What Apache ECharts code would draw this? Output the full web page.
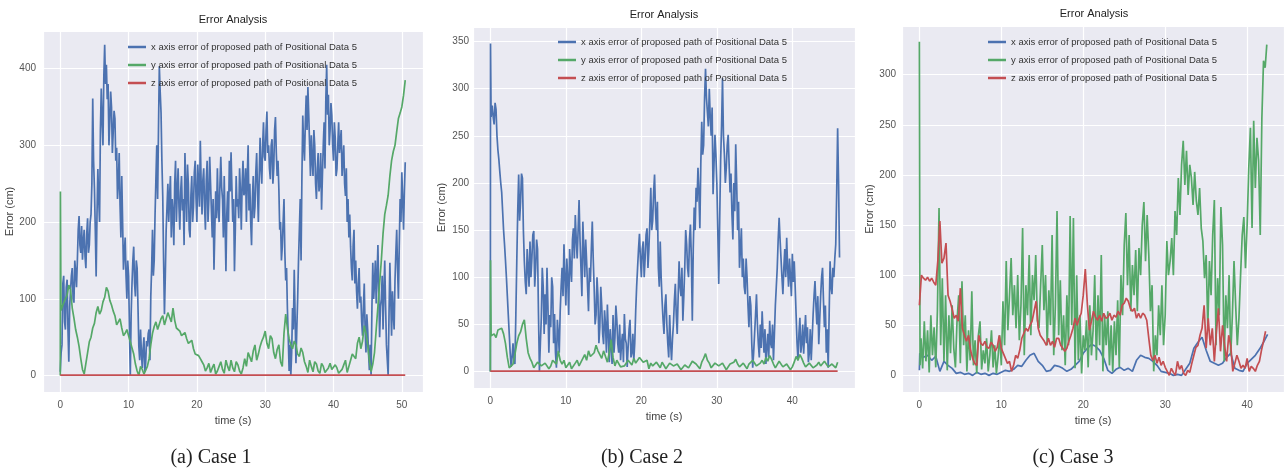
<!DOCTYPE html>
<html>
<head>
<meta charset="utf-8">
<title>Error Analysis</title>
<script src="https://cdn.jsdelivr.net/npm/echarts@6.0.0/dist/echarts.min.js"></script>
<style>
html, body {
	margin: 0;
	padding: 0;
	background: #ffffff;
}

#main {
	width: 1287px;
	height: 472px;
}
</style>
</head>
<body>
<div id="main"></div>
<script type="text/javascript">
	// values: time in s, error in cm
	var seriesNames = [ 'x axis error of proposed path of Positional Data 5',
			'y axis error of proposed path of Positional Data 5',
			'z axis error of proposed path of Positional Data 5' ];
	var captions = [ '(a) Case 1', '(b) Case 2', '(c) Case 3' ];

	// Case 1
	var case1XStep = 0.125;
	var case1X = [ 5, 30, 40, 120, 130, 70, 60, 115,
			125, 60, 18, 90, 110, 130, 140, 100,
			95, 150, 135, 115, 150, 190, 208, 170,
			160, 195, 151, 175, 190, 155, 140, 185,
			205, 160, 170, 200, 210, 250, 361, 280,
			244, 190, 129, 210, 269, 230, 200, 320,
			374, 330, 300, 390, 431, 380, 405, 360,
			380, 300, 331, 370, 350, 290, 318, 345,
			335, 280, 297, 230, 250, 290, 222, 180,
			260, 200, 138, 160, 180, 130, 100, 150,
			130, 60, 0, 80, 120, 150, 168, 120,
			103, 150, 140, 90, 38, 20, 60, 30,
			10, 35, 50, 5, 16, 45, 38, 55,
			60, 20, 103, 140, 190, 130, 150, 210,
			256, 300, 230, 320, 403, 370, 343, 280,
			234, 150, 80, 130, 190, 220, 250, 200,
			234, 260, 180, 230, 212, 170, 250, 280,
			200, 240, 270, 220, 190, 240, 260, 215,
			230, 170, 290, 245, 200, 275, 250, 190,
			180, 235, 260, 200, 220, 265, 280, 230,
			200, 275, 250, 220, 306, 250, 210, 255,
			270, 220, 190, 255, 280, 200, 230, 285,
			250, 215, 180, 230, 138, 190, 240, 205,
			270, 220, 200, 250, 285, 245, 230, 180,
			260, 200, 136, 210, 240, 200, 280, 240,
			291, 245, 200, 230, 136, 190, 260, 220,
			230, 205, 270, 240, 190, 250, 280, 235,
			240, 270, 200, 260, 300, 215, 250, 200,
			170, 230, 260, 205, 220, 265, 290, 240,
			200, 260, 310, 270, 250, 300, 330, 285,
			280, 320, 344, 290, 300, 270, 256, 300,
			308, 250, 270, 320, 337, 290, 260, 280,
			243, 190, 200, 150, 168, 200, 230, 160,
			124, 140, 87, 50, 6, 40, 0, 30,
			88, 60, 138, 80, 16, 60, 100, 150,
			190, 230, 150, 260, 339, 300, 280, 330,
			365, 320, 376, 340, 300, 260, 313, 280,
			260, 320, 300, 250, 230, 270, 290, 240,
			250, 290, 216, 260, 300, 330, 270, 360,
			405, 340, 366, 300, 320, 355, 339, 300,
			280, 330, 310, 260, 269, 300, 330, 290,
			290, 320, 260, 280, 300, 250, 234, 270,
			200, 230, 180, 210, 168, 140, 124, 170,
			190, 120, 150, 110, 87, 120, 140, 95,
			103, 70, 52, 90, 120, 60, 30, 80,
			60, 30, 7, 40, 0, 90, 147, 100,
			120, 150, 94, 130, 170, 110, 50, 90,
			100, 130, 60, 110, 150, 90, 40, 20,
			0, 80, 147, 100, 52, 110, 81, 60,
			124, 160, 190, 140, 100, 170, 230, 200,
			265, 230, 190, 240, 278 ];
	var case1YHead = [ [ 0, 0 ], [ 0.02, 240 ], [ 0.1, 85 ] ];
	var case1YStart = 0.5;
	var case1YStep = 0.25;
	var case1Y = [ 95, 100, 105, 118, 112, 88, 75, 60, 50, 38, 22, 8, 2, 16, 30, 44, 50, 62, 68, 82,
			90, 80, 85, 96, 102, 115, 110, 98, 92, 84, 78, 66, 70, 74, 62, 52, 55, 60, 52, 44,
			36, 28, 15, 6, 0, 12, 8, 2, 3, 12, 22, 40, 55, 64, 70, 60, 62, 74, 78, 66,
			68, 82, 76, 70, 88, 72, 62, 64, 58, 52, 50, 56, 48, 42, 40, 46, 35, 28, 30, 26,
			22, 18, 14, 6, 10, 16, 4, 10, 15, 2, 6, 12, 18, 8, 3, 20, 12, 6, 20, 10,
			5, 18, 14, 6, 2, 10, 22, 12, 30, 24, 18, 32, 40, 20, 28, 38, 45, 50, 58, 42,
			35, 52, 48, 30, 22, 34, 40, 18, 12, 55, 80, 62, 48, 40, 35, 45, 40, 28, 25, 36,
			30, 18, 12, 4, 20, 12, 5, 18, 15, 6, 3, 16, 12, 4, 2, 10, 16, 8, 6, 14,
			10, 3, 2, 8, 14, 20, 4, 12, 20, 28, 30, 22, 42, 50, 35, 45, 65, 55, 40, 20,
			5, 15, 30, 60, 90, 120, 150, 185, 210, 222, 235, 260, 280, 292, 300, 318, 335, 342, 350, 365,
			385 ];
	var case1Z = [ [ 0, 0.5 ], [ 50.5, 0.5 ] ];

	// Case 2
	var case2XHead = [ [ 0, 0 ], [ 0.02, 348 ], [ 0.1, 270 ] ];
	var case2XStart = 0.25;
	var case2XStep = 0.125;
	var case2X = [ 282, 270, 262, 285, 278, 250, 235, 225,
			212, 200, 190, 170, 150, 135, 118, 100,
			80, 60, 40, 20, 5, 15, 30, 12,
			8, 60, 117, 170, 209, 160, 180, 210,
			205, 150, 117, 95, 82, 130, 110, 90,
			138, 100, 120, 145, 149, 90, 110, 140,
			130, 60, 0, 30, 57, 110, 90, 40,
			82, 50, 110, 70, 20, 60, 47, 100,
			90, 30, 61, 20, 4, 55, 40, 20,
			64, 90, 110, 80, 135, 100, 70, 120,
			100, 60, 130, 110, 95, 140, 152, 120,
			166, 140, 120, 150, 182, 140, 110, 80,
			159, 130, 100, 140, 117, 90, 64, 110,
			95, 130, 159, 120, 89, 50, 60, 100,
			80, 30, 47, 90, 70, 40, 29, 65,
			50, 20, 71, 40, 10, 45, 26, 8,
			60, 20, 36, 70, 55, 30, 20, 50,
			12, 30, 40, 10, 61, 35, 30, 5,
			26, 45, 55, 15, 20, 40, 12, 30,
			64, 90, 110, 130, 146, 120, 100, 130,
			138, 100, 120, 145, 152, 110, 130, 160,
			195, 150, 160, 190, 209, 170, 150, 180,
			110, 90, 138, 100, 75, 55, 40, 70,
			82, 50, 30, 15, 60, 30, 12, 35,
			50, 75, 93, 60, 40, 80, 117, 90,
			80, 110, 54, 80, 110, 150, 135, 110,
			100, 140, 156, 120, 54, 130, 174, 150,
			195, 180, 216, 190, 152, 220, 265, 230,
			240, 290, 321, 290, 275, 260, 300, 270,
			250, 280, 188, 220, 251, 230, 200, 150,
			93, 160, 223, 260, 311, 250, 230, 200,
			216, 240, 251, 220, 190, 210, 167, 140,
			200, 170, 241, 200, 150, 180, 110, 130,
			152, 100, 120, 90, 82, 120, 100, 70,
			47, 80, 70, 30, 4, 20, 40, 60,
			82, 50, 29, 15, 50, 25, 64, 40,
			20, 45, 8, 25, 40, 15, 54, 30,
			25, 50, 12, 40, 70, 90, 110, 140,
			163, 140, 120, 100, 82, 110, 130, 100,
			142, 110, 90, 120, 100, 80, 125, 95,
			117, 90, 60, 30, 12, 40, 57, 20,
			30, 50, 19, 40, 60, 30, 47, 10,
			20, 45, 12, 35, 60, 80, 96, 70,
			50, 80, 29, 55, 80, 100, 110, 75,
			47, 70, 20, 45, 4, 60, 117, 90,
			82, 110, 100, 120, 135, 190, 258, 200,
			121 ];
	var case2YHead = [ [ 0, 0 ], [ 0.02, 118 ], [ 0.1, 38 ] ];
	var case2YStart = 0.5;
	var case2YStep = 0.25;
	var case2Y = [ 40, 36, 44, 42, 46, 40, 30, 15, 4, 2, 8, 18, 30, 38, 42, 50, 55, 35, 20, 14,
			10, 4, 6, 10, 12, 6, 4, 9, 10, 3, 6, 12, 14, 8, 22, 12, 8, 12, 4, 7,
			10, 3, 5, 9, 12, 6, 8, 14, 18, 12, 22, 16, 15, 20, 28, 22, 18, 14, 22, 16,
			10, 20, 34, 15, 6, 12, 10, 5, 3, 6, 8, 12, 12, 7, 14, 9, 10, 15, 13, 10,
			8, 12, 3, 9, 6, 4, 10, 7, 4, 10, 8, 3, 5, 9, 11, 6, 4, 8, 7, 2,
			3, 7, 9, 4, 5, 11, 12, 8, 6, 3, 10, 14, 19, 12, 9, 4, 5, 9, 10, 6,
			4, 9, 8, 2, 3, 8, 6, 10, 13, 8, 5, 3, 9, 6, 3, 8, 7, 12, 10, 6,
			5, 9, 12, 8, 15, 11, 17, 13, 8, 4, 6, 11, 10, 5, 3, 8, 7, 2, 5, 10,
			16, 12, 18, 14, 9, 5, 4, 9, 8, 4, 3, 7, 10, 6, 5, 11, 9, 5, 3, 8,
			6, 4, 10 ];
	var case2Z = [ [ 0, 0.5 ], [ 46, 0.5 ] ];

	// Case 3
	var case3XHead = [ [ 0, 5 ], [ 0.05, 22 ] ];
	var case3XStart = 0.5;
	var case3XStep = 0.5;
	var case3X = [ 18, 20, 15, 19, 4, 14, 10, 7, 2, 3, 1, 2, 0, 3, 1, 2, 0, 2,
			1, 3, 5, 4, 6, 10, 9, 15, 20, 22, 14, 10, 4, 5, 10, 9, 7, 4, 6, 10,
			14, 22, 27, 31, 29, 25, 17, 5, 2, 6, 8, 5, 7, 4, 15, 20, 18, 17,
			14, 10, 4, 3, 2, 0, 1, 0, 6, 12, 27, 33, 38, 25, 14, 12, 10, 12,
			18, 22, 7, 5, 4, 12, 16, 20, 26, 33, 41 ];
	var case3YHead = [ [ 0, 333 ], [ 0.08, 10 ] ];
	var case3YStart = 0.2;
	var case3YStep = 0.2;
	var case3Y = [ 37, 7, 54, 14, 45, 3, 60, 20, 48, 8, 64, 167, 30, 97, 14,
			80, 5, 60, 22, 70, 27, 8, 55, 80, 12, 94, 30, 60, 4, 45, 15, 84,
			10, 35, 2, 40, 54, 6, 25, 12, 37, 4, 20, 45, 8, 30, 2, 18, 40, 10,
			74, 30, 114, 45, 80, 117, 60, 90, 47, 100, 35, 70, 147, 20, 90, 60,
			120, 40, 100, 75, 120, 55, 47, 90, 130, 65, 100, 30, 85, 50, 140,
			20, 70, 164, 40, 95, 25, 60, 10, 80, 30, 159, 50, 157, 7, 100, 15,
			60, 2, 40, 25, 55, 8, 70, 20, 45, 100, 15, 80, 30, 120, 4, 60, 30,
			64, 10, 50, 4, 54, 20, 75, 8, 100, 60, 130, 162, 90, 140, 64, 110,
			80, 125, 64, 127, 100, 150, 173, 114, 160, 120, 64, 90, 4, 40, 20,
			70, 40, 90, 30, 60, 134, 100, 114, 137, 100, 164, 140, 197, 160,
			210, 234, 190, 224, 180, 210, 197, 170, 203, 174, 160, 187, 147,
			134, 97, 120, 47, 114, 80, 140, 175, 30, 97, 60, 168, 130, 14, 80,
			47, 100, 20, 60, 114, 70, 30, 57, 100, 140, 158, 107, 150, 207,
			247, 147, 254, 187, 237, 214, 140, 257, 314, 307, 330 ];
	var case3ZStep = 0.25;
	var case3Z = [ 70, 100, 97, 95, 98, 94, 97, 93, 90, 114, 154, 112, 117,
			132, 80, 74, 66, 57, 60, 54, 87, 47, 40, 34, 40, 25, 17, 12, 10,
			40, 32, 30, 34, 28, 27, 33, 30, 24, 28, 40, 27, 22, 17, 12, 14, 4,
			10, 20, 17, 25, 37, 42, 47, 44, 50, 54, 64, 74, 47, 40, 37, 34, 30,
			37, 30, 34, 28, 37, 37, 30, 27, 24, 27, 34, 40, 47, 57, 50, 57, 62,
			80, 106, 71, 45, 54, 64, 58, 55, 60, 54, 62, 57, 58, 62, 55, 60,
			58, 64, 60, 70, 72, 77, 74, 67, 64, 67, 57, 62, 57, 62, 60, 55, 37,
			20, 15, 20, 12, 18, 10, 14, 8, 4, 0, 7, 3, 0, 14, 6, 10, 2, 0, 5,
			3, 12, 20, 28, 30, 40, 47, 70, 27, 57, 30, 47, 14, 44, 67, 24, 50,
			30, 14, 40, 30, 4, 12, 20, 14, 7, 10, 7, 17, 4, 9, 7, 4, 10, 14, 25,
			34, 44 ];
</script>
<script type="text/javascript">
	var lineColors = [ '#4C72B0', '#55A868', '#C44E52' ];
	var sansFont = '"Liberation Sans", Arial, sans-serif';

	function toPoints(head, start, step, values) {
		var pts = head.slice();
		for (var i = 0; i < values.length; i++) {
			pts.push([ +(start + i * step).toFixed(3), values[i] ]);
		}
		return pts;
	}

	function lineSeries(idx, k, data) {
		return {
			name : seriesNames[k],
			type : 'line',
			xAxisIndex : idx,
			yAxisIndex : idx,
			data : data,
			symbol : 'none',
			showSymbol : false,
			silent : true,
			animation : false,
			itemStyle : {
				color : lineColors[k]
			},
			lineStyle : {
				color : lineColors[k],
				width : 1.7
			}
		};
	}

	// only label the round values, the axis ends are not labelled
	function tickFormatter(step) {
		return function(v) {
			return Math.abs(v / step - Math.round(v / step)) < 1e-6 ? String(Math.round(v)) : '';
		};
	}

	function makeXAxis(idx, min, max) {
		return {
			type : 'value',
			gridIndex : idx,
			min : min,
			max : max,
			splitNumber : 5,
			name : 'time (s)',
			nameLocation : 'middle',
			nameGap : 23,
			nameTextStyle : {
				color : '#444',
				fontSize : 11,
				fontFamily : sansFont
			},
			axisLine : {
				show : false
			},
			axisTick : {
				show : false
			},
			axisLabel : {
				margin : 8,
				color : '#555',
				fontSize : 10,
				fontFamily : sansFont,
				formatter : tickFormatter(10)
			},
			splitLine : {
				lineStyle : {
					color : '#ffffff',
					width : 1.2
				}
			}
		};
	}

	function makeYAxis(idx, min, max, splits, step, margin, gap) {
		return {
			type : 'value',
			gridIndex : idx,
			min : min,
			max : max,
			splitNumber : splits,
			name : 'Error (cm)',
			nameLocation : 'middle',
			nameGap : gap,
			nameTextStyle : {
				color : '#444',
				fontSize : 11,
				fontFamily : sansFont
			},
			axisLine : {
				show : false
			},
			axisTick : {
				show : false
			},
			axisLabel : {
				margin : margin,
				color : '#555',
				fontSize : 10,
				fontFamily : sansFont,
				formatter : tickFormatter(step)
			},
			splitLine : {
				lineStyle : {
					color : '#ffffff',
					width : 1.2
				}
			}
		};
	}

	function makeLegend(left, top) {
		return {
			left : left,
			top : top,
			orient : 'vertical',
			padding : 0,
			itemWidth : 18,
			itemHeight : 2.5,
			itemGap : 6,
			icon : 'rect',
			selectedMode : false,
			textStyle : {
				color : '#333',
				fontSize : 9.5,
				lineHeight : 12,
				fontFamily : sansFont
			},
			data : seriesNames
		};
	}

	function makeGrid(left, top, width, height) {
		return {
			left : left,
			top : top,
			width : width,
			height : height,
			show : true,
			backgroundColor : '#EAEAF2',
			borderWidth : 0
		};
	}

	function textItem(x, y, str, font) {
		return {
			type : 'text',
			x : x,
			y : y,
			silent : true,
			style : {
				text : str,
				fill : '#222',
				font : font,
				align : 'center',
				verticalAlign : 'middle'
			}
		};
	}

	var myChart = echarts.init(document.getElementById('main'));
	var titleFont = '11px "Liberation Sans", Arial, sans-serif';
	var captionFont = '20px "Liberation Serif", "Times New Roman", serif';

	var option = {
		animation : false,
		grid : [ makeGrid(43, 31, 380, 361), makeGrid(473, 27, 382, 361),
				makeGrid(902, 26, 384, 366) ],
		xAxis : [ makeXAxis(0, -2.53, 53.1), makeXAxis(1, -2.3, 48.3),
				makeXAxis(2, -2.12, 44.5) ],
		yAxis : [ makeYAxis(0, -21.4, 449, 5, 100, 7, 25),
				makeYAxis(1, -17.4, 365.4, 7, 50, 4, 26),
				makeYAxis(2, -16.6, 348.6, 7, 50, 6, 25) ],
		legend : [ makeLegend(128, 41), makeLegend(558, 36), makeLegend(988, 36) ],
		graphic : [ textItem(233, 20, 'Error Analysis', titleFont),
				textItem(664, 15, 'Error Analysis', titleFont),
				textItem(1094, 14, 'Error Analysis', titleFont),
				textItem(211, 458, captions[0], captionFont),
				textItem(642, 458, captions[1], captionFont),
				textItem(1073, 458, captions[2], captionFont) ],
		series : [
				lineSeries(0, 0, toPoints([], 0, case1XStep, case1X)),
				lineSeries(0, 1, toPoints(case1YHead, case1YStart, case1YStep, case1Y)),
				lineSeries(0, 2, case1Z),
				lineSeries(1, 0, toPoints(case2XHead, case2XStart, case2XStep, case2X)),
				lineSeries(1, 1, toPoints(case2YHead, case2YStart, case2YStep, case2Y)),
				lineSeries(1, 2, case2Z),
				lineSeries(2, 0, toPoints(case3XHead, case3XStart, case3XStep, case3X)),
				lineSeries(2, 1, toPoints(case3YHead, case3YStart, case3YStep, case3Y)),
				lineSeries(2, 2, toPoints([], 0, case3ZStep, case3Z)) ]
	};
	myChart.setOption(option);
</script>
</body>
</html>
